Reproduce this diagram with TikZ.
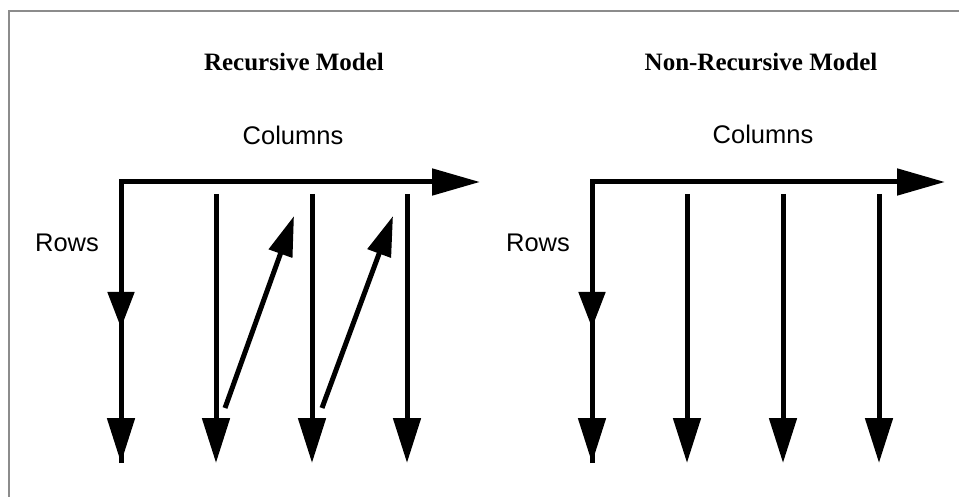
\documentclass[tikz,border=0pt]{standalone}
\usepackage{fontspec}
\setmainfont{Liberation Serif}
\setsansfont{Liberation Sans}
\usetikzlibrary{arrows.meta}
\definecolor{framegray}{HTML}{8C8C8C}
\tikzset{
  axis/.style={line width=5pt, line join=miter},
  headbig/.style={-{Triangle[length=45pt,width=27pt]}},
  headhor/.style={-{Triangle[length=48pt,width=26pt]}},
  headmid/.style={-{Triangle[length=36pt,width=26pt]}},
  headdiag/.style={-{Triangle[length=40pt,width=24pt]}},
  title/.style={font=\fontsize{25pt}{28pt}\selectfont\bfseries},
  lbl/.style={font=\fontsize{25.5pt}{28pt}\selectfont\sffamily}
}
\begin{document}
\begin{tikzpicture}[x=1pt,y=-1pt]
\useasboundingbox (0,0) rectangle (959,497);
% frame (top and left only)
\draw[framegray, line width=2pt] (9,497) -- (9,11) -- (959,11);

% ---------- Recursive model ----------
\node[title] (t1) at (294,62) {Recursive Model};
\node[lbl] (c1) at (293,135) {Columns};
\node[lbl] (r1) at (67,243) {Rows};
\coordinate (Lo) at (121,182);
\coordinate (Lh) at (480,182);
\coordinate (Lv) at (121,463);
\coordinate (Lm) at (121,328);
\draw[axis, headhor] (Lv) -- (Lo) -- (Lh);
\draw[axis, -{Triangle[length=45pt,width=27pt]}] (Lo) -- (Lv);
\draw[axis, headmid] (Lo) -- (Lm);
\foreach \x/\n in {216/a,312/b,407/c}{
  \coordinate (L\n s) at (\x,194);
  \coordinate (L\n e) at (\x,463);
  \draw[axis, headbig] (L\n s) -- (L\n e);
}
\coordinate (D1s) at (225,408);
\coordinate (D1e) at (294,216);
\coordinate (D2s) at (322,408);
\coordinate (D2e) at (393,216);
\draw[axis, headdiag] (D1s) -- (D1e);
\draw[axis, headdiag] (D2s) -- (D2e);

% ---------- Non-recursive model ----------
\node[title] (t2) at (761,62) {Non-Recursive Model};
\node[lbl] (c2) at (763,134) {Columns};
\node[lbl] (r2) at (538,243) {Rows};
\coordinate (Ro) at (592,182);
\coordinate (Rh) at (945,182);
\coordinate (Rv) at (592,463);
\coordinate (Rm) at (592,328);
\draw[axis, headhor] (Rv) -- (Ro) -- (Rh);
\draw[axis, headbig] (Ro) -- (Rv);
\draw[axis, headmid] (Ro) -- (Rm);
\foreach \x/\n in {687/a,783/b,879/c}{
  \coordinate (R\n s) at (\x,194);
  \coordinate (R\n e) at (\x,463);
  \draw[axis, headbig] (R\n s) -- (R\n e);
}
\end{tikzpicture}
\end{document}
